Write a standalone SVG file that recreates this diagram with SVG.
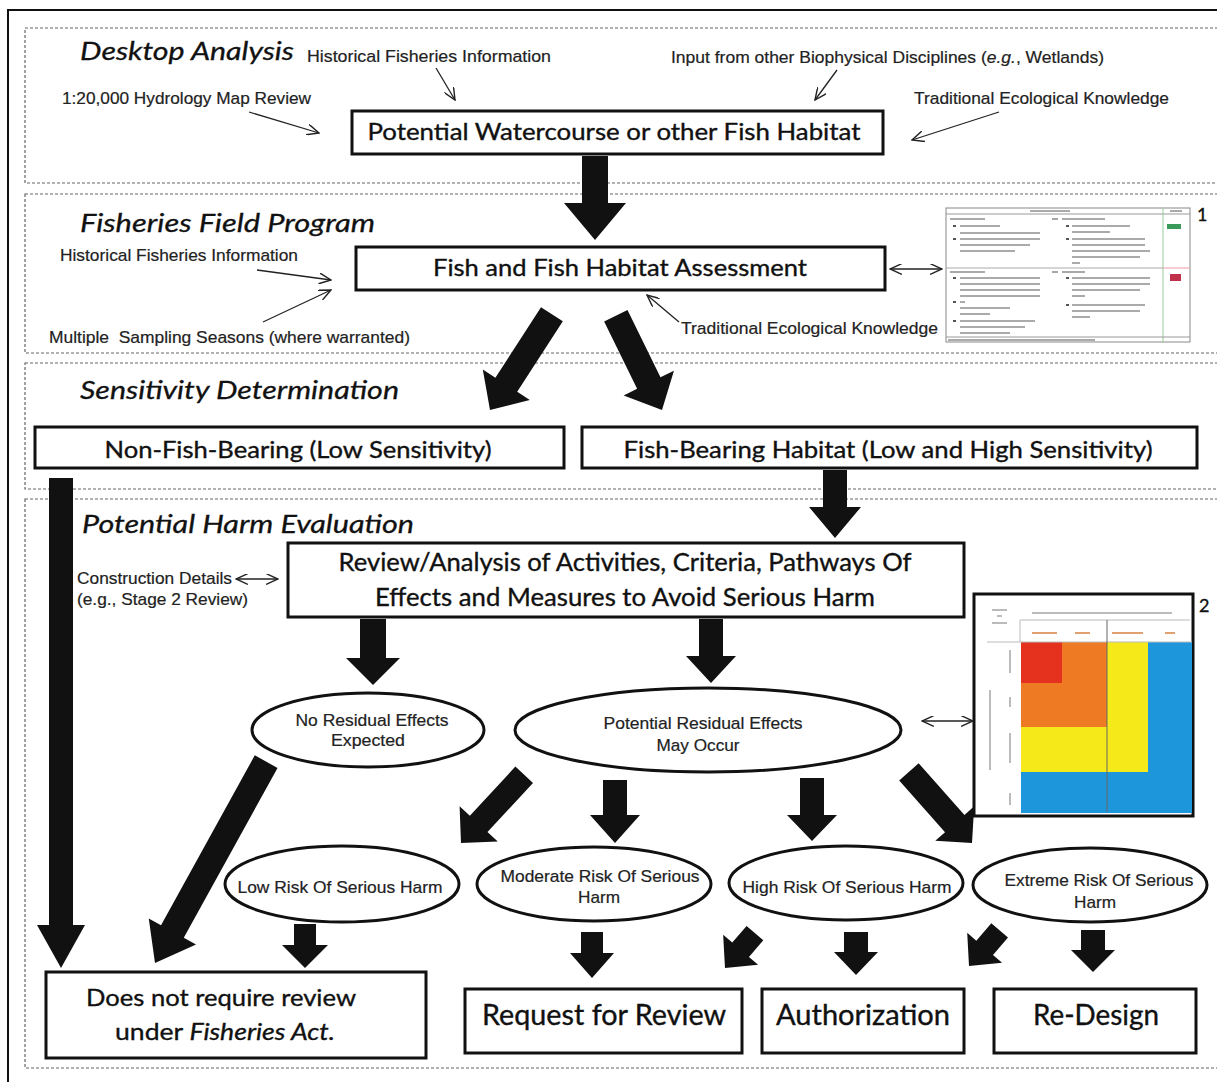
<svg xmlns="http://www.w3.org/2000/svg" width="1217" height="1082" viewBox="0 0 1217 1082">
<defs>
<style>
.sec{fill:none;stroke:#666;stroke-width:1.2;stroke-dasharray:3 2}
.box{fill:#fff;stroke:#111;stroke-width:3}
.ell{fill:#fff;stroke:#111;stroke-width:3}
.t{font-family:Lato,"Open Sans",sans-serif;fill:#111;stroke:#111;stroke-width:0.35}
.h{font-family:Lato,"Open Sans",sans-serif;font-style:italic;fill:#111;font-size:26px;stroke:#111;stroke-width:0.3}
.l{font-family:"Liberation Sans",Arial,sans-serif;fill:#222;font-size:17px;stroke:#222;stroke-width:0.2}
.thin{fill:none;stroke:#222;stroke-width:1.3}
.fa{fill:#111}
.blob{stroke:#aaa;stroke-width:2;fill:none}
.mblob{stroke:#bbb;stroke-width:2;fill:none}
</style>
<marker id="ah" viewBox="0 0 12 10" refX="11" refY="5" markerWidth="13" markerHeight="11" markerUnits="userSpaceOnUse" orient="auto-start-reverse">
<path d="M0,0 L11,5 L0,10" fill="none" stroke="#222" stroke-width="1.3"/>
</marker>
</defs>
<rect width="1217" height="1082" fill="#fff"/>
<rect x="8" y="10" width="1230" height="1090" fill="none" stroke="#111" stroke-width="2"/>

<g id="sections">
<rect class="sec" x="25" y="28" width="1200" height="155"/>
<rect class="sec" x="25" y="194" width="1200" height="159"/>
<rect class="sec" x="25" y="363" width="1200" height="126"/>
<rect class="sec" x="25" y="499" width="1200" height="569"/>
<text class="h" x="80" y="60" textLength="214" lengthAdjust="spacingAndGlyphs">Desktop Analysis</text>
<text class="h" x="80" y="232" textLength="295" lengthAdjust="spacingAndGlyphs">Fisheries Field Program</text>
<text class="h" x="80" y="399" textLength="319" lengthAdjust="spacingAndGlyphs">Sensitivity Determination</text>
<text class="h" x="82" y="533" textLength="332" lengthAdjust="spacingAndGlyphs">Potential Harm Evaluation</text>
</g>

<g id="labels">
<text class="l" x="307" y="62" textLength="244" lengthAdjust="spacingAndGlyphs">Historical Fisheries Information</text>
<text class="l" x="671" y="63" textLength="433" lengthAdjust="spacingAndGlyphs">Input from other Biophysical Disciplines (<tspan font-style="italic">e.g.</tspan>, Wetlands)</text>
<text class="l" x="62" y="104" textLength="249" lengthAdjust="spacingAndGlyphs">1:20,000 Hydrology Map Review</text>
<text class="l" x="914" y="104" textLength="255" lengthAdjust="spacingAndGlyphs">Traditional Ecological Knowledge</text>
<text class="l" x="60" y="261" textLength="238" lengthAdjust="spacingAndGlyphs">Historical Fisheries Information</text>
<text class="l" x="49" y="343" textLength="361" lengthAdjust="spacingAndGlyphs" xml:space="preserve">Multiple  Sampling Seasons (where warranted)</text>
<text class="l" x="681" y="334" textLength="257" lengthAdjust="spacingAndGlyphs">Traditional Ecological Knowledge</text>
<text class="l" x="77" y="584" textLength="155" lengthAdjust="spacingAndGlyphs">Construction Details</text>
<text class="l" x="77" y="605" textLength="171" lengthAdjust="spacingAndGlyphs">(e.g., Stage 2 Review)</text>
</g>

<g id="n-watercourse">
<rect class="box" x="352" y="111" width="531" height="43"/>
<text class="t" x="614" y="140" font-size="23" text-anchor="middle" textLength="493" lengthAdjust="spacingAndGlyphs">Potential Watercourse or other Fish Habitat</text>
</g>
<g id="n-assessment">
<rect class="box" x="356" y="247" width="529" height="43"/>
<text class="t" x="620" y="276" font-size="23" text-anchor="middle" textLength="374" lengthAdjust="spacingAndGlyphs">Fish and Fish Habitat Assessment</text>
</g>
<g id="n-table1">
<rect x="946" y="208" width="244" height="134" fill="#fff" stroke="#888" stroke-width="1"/>
<line x1="946" y1="214" x2="1190" y2="214" stroke="#999" stroke-width="1"/>
<line x1="1163" y1="208" x2="1163" y2="342" stroke="#9c9" stroke-width="1"/>
<line x1="946" y1="268" x2="1163" y2="268" stroke="#aaa" stroke-width="1"/>
<line x1="1163" y1="268" x2="1190" y2="268" stroke="#e9a" stroke-width="1"/>
<line x1="946" y1="337" x2="1190" y2="337" stroke="#999" stroke-width="1"/>
<path class="blob" d="M1030,211H1070M1170,211H1182M950,219H985M960,226H1000M960,233H1040M960,239H1040M960,245H1030M960,251H1015M1062,219H1105M1072,226H1130M1072,232H1110M1072,239H1145M1072,245H1145M1072,251H1150M1072,257H1140M1072,263H1080M950,272H985M960,278H1040M960,284H1040M960,290H1040M960,296H1040M960,302H965M960,308H1010M960,314H990M960,321H1035M960,327H1025M960,333H1010M1062,272H1085M1072,278H1150M1072,284H1150M1072,290H1140M1072,296H1085M1072,305H1145M1072,311H1140M1072,317H1090M948,340H1095"/>
<path d="M953,226h3M953,239h3M953,278h3M953,302h3M953,321h3M1066,226h3M1066,239h3M1066,278h3M1066,305h3" stroke="#555" stroke-width="2"/>
<rect x="1167" y="224" width="14" height="5" fill="#3a9a5a"/>
<rect x="1170" y="274" width="11" height="7" fill="#c0304a"/>
<line x1="1052" y1="219" x2="1058" y2="219" stroke="#888" stroke-width="1.5"/>
<line x1="1052" y1="272" x2="1058" y2="272" stroke="#888" stroke-width="1.5"/>
<text class="t" x="1197" y="221" font-size="18">1</text>
</g>
<g id="n-nonfish">
<rect class="box" x="35" y="427" width="529" height="41"/>
<text class="t" x="298" y="458" font-size="23" text-anchor="middle" textLength="387" lengthAdjust="spacingAndGlyphs">Non-Fish-Bearing (Low Sensitivity)</text>
</g>
<g id="n-fishbearing">
<rect class="box" x="582" y="427" width="615" height="41"/>
<text class="t" x="888" y="458" font-size="23" text-anchor="middle" textLength="529" lengthAdjust="spacingAndGlyphs">Fish-Bearing Habitat (Low and High Sensitivity)</text>
</g>
<g id="n-review">
<rect class="box" x="288" y="543" width="676" height="74"/>
<text class="t" x="625" y="571" font-size="25" text-anchor="middle" textLength="573" lengthAdjust="spacingAndGlyphs">Review/Analysis of Activities, Criteria, Pathways Of</text>
<text class="t" x="625" y="606" font-size="25" text-anchor="middle" textLength="500" lengthAdjust="spacingAndGlyphs">Effects and Measures to Avoid Serious Harm</text>
</g>
<g id="n-matrix">
<rect x="974" y="594" width="219" height="222" fill="#fff" stroke="#111" stroke-width="3"/>
<rect x="1021" y="642" width="171" height="171" fill="#1e96dc"/>
<rect x="1021" y="642" width="127" height="130" fill="#f5e91a"/>
<rect x="1021" y="642" width="86" height="85" fill="#ee7a24"/>
<rect x="1021" y="642" width="41" height="41" fill="#e5321f"/>
<line x1="1020" y1="620" x2="1190" y2="620" stroke="#bbb" stroke-width="1"/>
<line x1="987" y1="642" x2="1192" y2="642" stroke="#bbb" stroke-width="1"/>
<line x1="1107" y1="620" x2="1107" y2="812" stroke="#666" stroke-width="1"/>
<line x1="1020" y1="620" x2="1020" y2="642" stroke="#bbb" stroke-width="1"/>
<path class="mblob" d="M992,610H1007M997,616H1002M992,623H1007M1032,613H1172M990,690V770M1010,650V673M1010,697V707M1010,733V763M1010,793V805"/>
<path d="M1032,633H1057M1075,633H1090M1112,633H1143M1165,633H1175" stroke="#e0a070" stroke-width="2"/>
<text class="t" x="1199" y="612" font-size="18">2</text>
</g>
<g id="n-nores">
<ellipse class="ell" cx="368" cy="730" rx="116" ry="37"/>
<text class="l" x="372" y="726" text-anchor="middle" textLength="153" lengthAdjust="spacingAndGlyphs">No Residual Effects</text>
<text class="l" x="368" y="746" text-anchor="middle" textLength="74" lengthAdjust="spacingAndGlyphs">Expected</text>
</g>
<g id="n-potres">
<ellipse class="ell" cx="708" cy="730" rx="193" ry="42"/>
<text class="l" x="703" y="729" text-anchor="middle" textLength="199" lengthAdjust="spacingAndGlyphs">Potential Residual Effects</text>
<text class="l" x="698" y="751" text-anchor="middle" textLength="83" lengthAdjust="spacingAndGlyphs">May Occur</text>
</g>
<g id="n-low">
<ellipse class="ell" cx="342" cy="884" rx="117" ry="38"/>
<text class="l" x="340" y="893" text-anchor="middle" textLength="205" lengthAdjust="spacingAndGlyphs">Low Risk Of Serious Harm</text>
</g>
<g id="n-moderate">
<ellipse class="ell" cx="594" cy="884" rx="117" ry="37"/>
<text class="l" x="600" y="882" text-anchor="middle" textLength="199" lengthAdjust="spacingAndGlyphs">Moderate Risk Of Serious</text>
<text class="l" x="599" y="903" text-anchor="middle" textLength="42" lengthAdjust="spacingAndGlyphs">Harm</text>
</g>
<g id="n-high">
<ellipse class="ell" cx="846" cy="883" rx="117" ry="37"/>
<text class="l" x="847" y="893" text-anchor="middle" textLength="209" lengthAdjust="spacingAndGlyphs">High Risk Of Serious Harm</text>
</g>
<g id="n-extreme">
<ellipse class="ell" cx="1090" cy="885" rx="117" ry="37"/>
<text class="l" x="1099" y="886" text-anchor="middle" textLength="189" lengthAdjust="spacingAndGlyphs">Extreme Risk Of Serious</text>
<text class="l" x="1095" y="908" text-anchor="middle" textLength="42" lengthAdjust="spacingAndGlyphs">Harm</text>
</g>
<g id="n-noreview">
<rect class="box" x="46" y="972" width="380" height="86"/>
<text class="t" x="221" y="1006" font-size="24" text-anchor="middle" textLength="270" lengthAdjust="spacingAndGlyphs">Does not require review</text>
<text class="t" x="225" y="1040" font-size="24" text-anchor="middle" textLength="220" lengthAdjust="spacingAndGlyphs">under <tspan font-style="italic">Fisheries Act.</tspan></text>
</g>
<g id="n-request">
<rect class="box" x="465" y="989" width="277" height="64"/>
<text class="t" x="604" y="1025" font-size="28" text-anchor="middle" textLength="244" lengthAdjust="spacingAndGlyphs">Request for Review</text>
</g>
<g id="n-auth">
<rect class="box" x="762" y="989" width="202" height="64"/>
<text class="t" x="863" y="1025" font-size="28" text-anchor="middle" textLength="174" lengthAdjust="spacingAndGlyphs">Authorization</text>
</g>
<g id="n-redesign">
<rect class="box" x="994" y="989" width="202" height="64"/>
<text class="t" x="1096" y="1025" font-size="28" text-anchor="middle" textLength="126" lengthAdjust="spacingAndGlyphs">Re-Design</text>
</g>

<g id="connectors">
<line class="thin" x1="436" y1="68" x2="455" y2="100" marker-end="url(#ah)"/>
<line class="thin" x1="837" y1="70" x2="815" y2="100" marker-end="url(#ah)"/>
<line class="thin" x1="249" y1="112" x2="319" y2="133" marker-end="url(#ah)"/>
<line class="thin" x1="999" y1="112" x2="912" y2="140" marker-end="url(#ah)"/>
<line class="thin" x1="257" y1="270" x2="331" y2="280" marker-end="url(#ah)"/>
<line class="thin" x1="263" y1="322" x2="331" y2="290" marker-end="url(#ah)"/>
<line class="thin" x1="679" y1="322" x2="647" y2="295" marker-end="url(#ah)"/>
<line class="thin" x1="890" y1="269" x2="942" y2="269" marker-start="url(#ah)" marker-end="url(#ah)"/>
<line class="thin" x1="236" y1="579" x2="278" y2="579" marker-start="url(#ah)" marker-end="url(#ah)"/>
<line class="thin" x1="922" y1="721" x2="973" y2="721" marker-start="url(#ah)" marker-end="url(#ah)"/>

<path class="fa" d="M582,156H608V203H626L595,240L564,203H582Z"/>
<path class="fa" d="M49,478H73V925H85L61,968L37,925H49Z"/>
<path class="fa" d="M823,470H847V507H861L835,538L809,507H823Z"/>
<path class="fa" d="M360,619H386V658H400L373,685L346,658H360Z"/>
<path class="fa" d="M699,619H723V656H736L711,683L686,656H699Z"/>
<path class="fa" d="M603,780H627V815H640L615,843L590,815H603Z"/>
<path class="fa" d="M800,778H824V815H837L812,841L787,815H800Z"/>
<path class="fa" d="M294,924H316V945H328L305,968L282,945H294Z"/>
<path class="fa" d="M581,932H603V953H614L592,978L570,953H581Z"/>
<path class="fa" d="M844,932H868V952H878L856,975L834,952H844Z"/>
<path class="fa" d="M1081,930H1105V950H1115L1093,972L1071,950H1081Z"/>

<path class="fa" transform="translate(490,410) rotate(32.9)" d="M-13,-114H13V-30H28L0,0L-28,-30H-13Z"/>
<path class="fa" transform="translate(662,410) rotate(-26.1)" d="M-13,-105H13V-30H28L0,0L-28,-30H-13Z"/>
<path class="fa" transform="translate(155,963) rotate(28.9)" d="M-13,-230H13V-36H27L0,0L-27,-36H-13Z"/>
<path class="fa" transform="translate(461,843) rotate(42.8)" d="M-12,-93H12V-26H26L0,0L-26,-26H-12Z"/>
<path class="fa" transform="translate(972,843) rotate(-41.6)" d="M-13,-95H13V-26H26L0,0L-26,-26H-13Z"/>
<path class="fa" transform="translate(725,968) rotate(40.6)" d="M-11,-46H11V-24H23L0,0L-23,-24H-11Z"/>
<path class="fa" transform="translate(969,966) rotate(40.7)" d="M-11,-47H11V-24H23L0,0L-23,-24H-11Z"/>
</g>
</svg>
